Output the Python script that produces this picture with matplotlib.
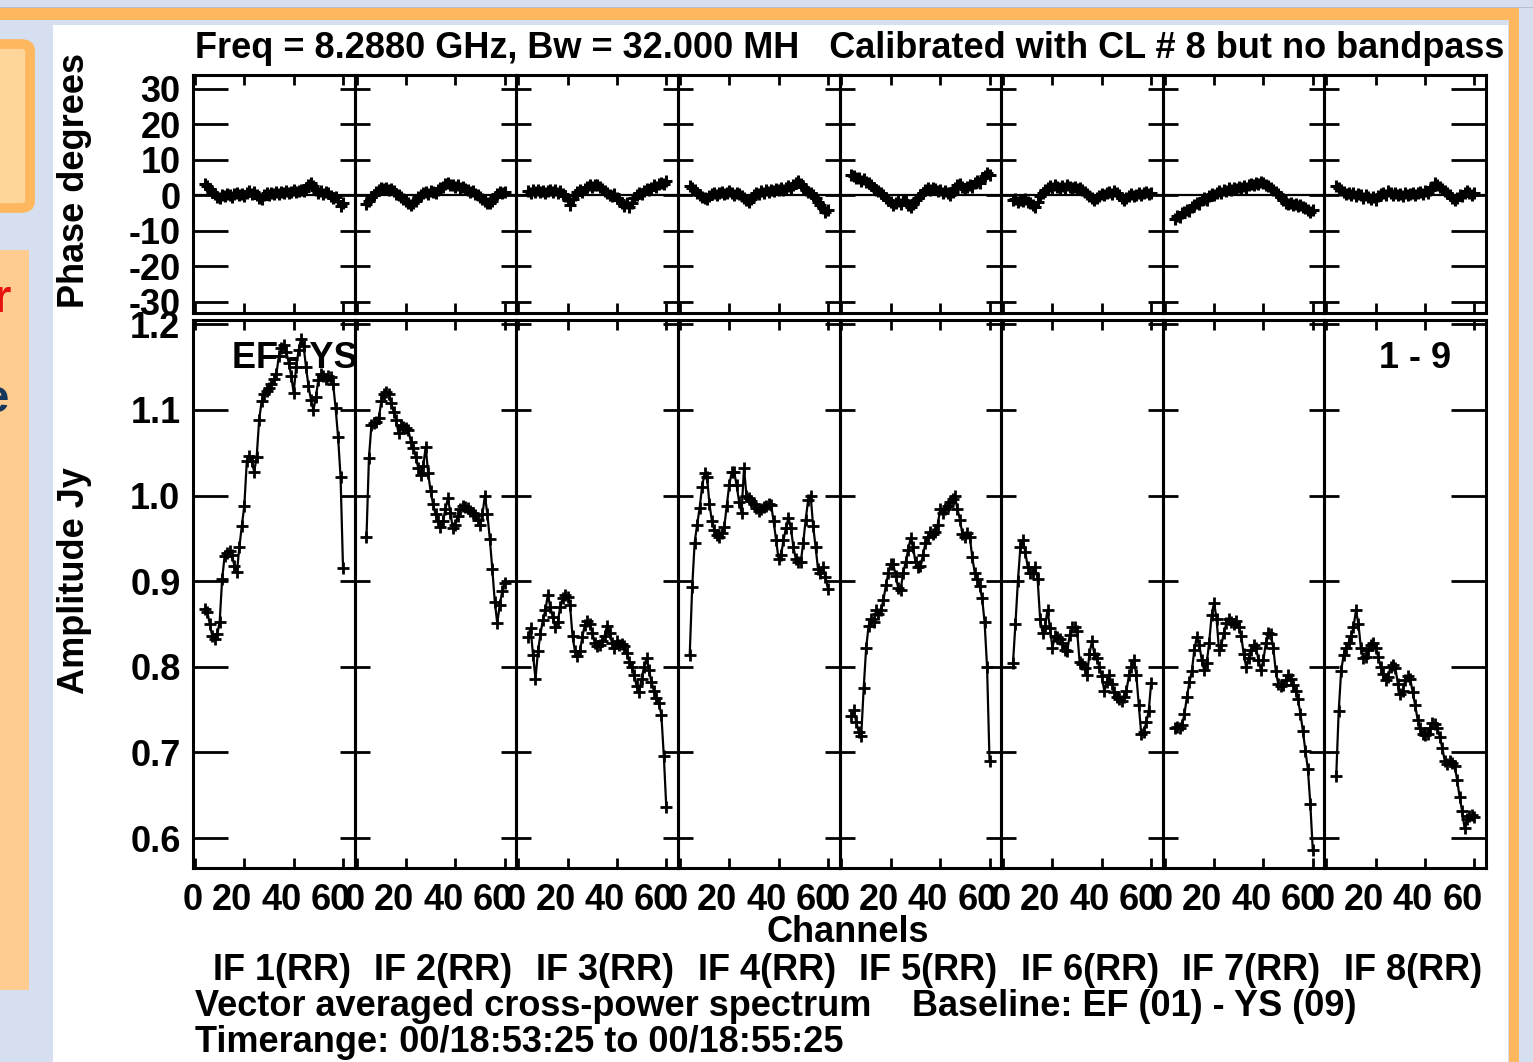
import matplotlib.pyplot as plt
from matplotlib.patches import Rectangle, FancyBboxPatch
from matplotlib.transforms import ScaledTranslation

plt.rcParams['font.family'] = ['Liberation Sans', 'DejaVu Sans']
plt.rcParams['font.weight'] = 'bold'
plt.rcParams['font.size'] = 26

# channels plotted in every IF (edge channels flagged)
channels = list(range(4, 61))

# phase (degrees) per IF, channels 4..60
phase_if1 = [3.2, 2.6, 1.8, 1.0, 0.4, -0.4, -0.6, 0.2, -0.3, 0.4,
             0.1, -0.5, 0.3, 0.6, 0.0, 0.4, -0.2, 0.8, 1.2, 0.5,
             0.9, 0.2, -0.6, -1.0, 0.1, 0.6, 0.2, 0.8, 0.4, 0.9,
             0.5, 1.1, 0.7, 1.2, 0.6, 1.0, 1.4, 0.9, 1.3, 1.6,
             1.2, 2.0, 2.8, 3.6, 2.6, 1.4, 0.8, 1.2, 0.4, 0.9,
             0.6, -0.2, -0.8, -0.4, -1.6, -3.0, -2.2]
phase_if2 = [-2.5, -1.5, -0.5, 0.0, 1.0, 1.5, 2.0, 1.8, 2.2, 1.5,
             1.8, 1.2, 0.5, 0.0, -0.5, -1.0, -1.5, -2.0, -2.8, -2.2,
             -1.5, -0.5, 0.0, 0.8, 1.0, 0.5, 1.2, 1.0, 0.8, 1.5,
             2.0, 2.5, 3.2, 3.5, 3.0, 2.8, 2.5, 2.8, 2.2, 2.5,
             1.8, 1.5, 1.0, 1.2, 0.5, 0.0, -0.5, -1.0, -1.5, -2.0,
             -2.2, -1.5, -0.5, 0.5, 1.0, 0.8, 1.0]
phase_if3 = [1.2, 0.8, 1.4, 1.0, 1.5, 0.9, 1.3, 0.7, 1.2, 1.6,
             1.0, 1.4, 0.8, 1.2, 0.4, -0.2, -1.2, -2.6, -1.0, 0.2,
             1.0, 1.4, 1.0, 1.8, 2.4, 2.8, 2.4, 3.0, 2.8, 2.4,
             1.8, 1.2, 0.8, 0.2, -0.2, 0.4, -0.6, -1.4, -2.2, -3.0,
             -2.2, -3.2, -2.0, -0.8, 0.2, 0.8, 0.4, 1.2, 1.8, 1.4,
             2.2, 2.8, 2.4, 3.2, 3.6, 3.2, 4.0]
phase_if4 = [2.6, 2.0, 1.4, 0.8, 0.2, -0.4, -0.8, -1.0, -0.2, 0.4,
             0.8, 0.2, 0.6, 1.0, 0.4, 0.8, 1.2, 0.6, 0.2, 0.8,
             0.4, -0.2, -0.6, -1.2, -1.8, -1.0, 0.2, 0.8, 0.4, 1.2,
             0.8, 1.4, 1.0, 1.6, 1.2, 1.8, 1.4, 2.0, 1.6, 2.2,
             2.6, 2.0, 2.8, 3.4, 4.0, 3.2, 2.4, 1.6, 1.0, 0.6,
             0.0, -0.6, -1.8, -2.8, -3.6, -4.6, -4.2]
phase_if5 = [5.8, 5.4, 5.0, 4.8, 4.2, 4.6, 3.8, 3.4, 3.0, 2.2,
             1.6, 1.2, 0.6, 0.2, -0.6, -1.2, -1.8, -2.6, -2.2, -1.6,
             -2.4, -1.2, -1.6, -2.6, -3.2, -2.4, -1.4, -0.6, 0.2, 0.8,
             1.4, 2.0, 1.6, 2.2, 1.8, 1.2, 1.6, 0.8, 1.2, 0.6,
             0.2, 1.0, 2.0, 2.8, 3.2, 2.4, 1.8, 2.4, 3.0, 2.4,
             3.4, 4.2, 3.6, 4.8, 5.6, 6.2, 5.8]
phase_if6 = [-1.4, -1.0, -1.8, -1.2, -1.6, -1.0, -1.8, -2.2, -2.8, -3.4,
             -1.8, -0.2, 0.8, 1.6, 2.2, 2.6, 2.2, 2.8, 2.4, 2.0,
             2.6, 2.2, 2.8, 2.4, 2.0, 2.4, 1.8, 2.2, 1.6, 1.0,
             0.4, -0.2, -0.8, -1.4, -0.8, -0.2, 0.4, 0.0, 0.6, 1.0,
             0.4, 1.2, 0.6, 0.0, -0.6, -1.2, -0.8, -0.2, 0.4, -0.2,
             0.2, 0.8, 0.2, 0.6, 1.0, 0.4, 0.8]
phase_if7 = [-6.6, -5.8, -6.2, -5.0, -4.6, -4.0, -4.4, -3.2, -2.8, -2.0,
             -2.4, -1.4, -0.8, -1.2, -0.2, 0.4, 0.0, 0.8, 1.2, 0.6,
             1.6, 1.2, 2.0, 1.6, 2.2, 1.8, 2.4, 2.0, 2.6, 2.2,
             2.8, 3.2, 2.8, 3.6, 3.2, 3.8, 3.4, 3.0, 2.6, 2.2,
             1.6, 1.0, 0.4, -0.4, -1.2, -2.0, -2.4, -2.0, -2.8, -2.4,
             -3.0, -2.6, -3.2, -3.6, -4.0, -4.6, -4.2]
phase_if8 = [2.6, 2.0, 1.4, 1.0, 0.4, 0.8, 0.2, 0.6, -0.2, 0.4,
             0.0, -0.6, 0.2, -0.4, -1.0, -0.4, -1.2, -0.2, 0.4, 0.8,
             0.2, 1.2, 0.6, 0.2, 0.8, 0.0, 0.4, -0.2, 0.6, 0.0,
             0.4, 0.8, 0.2, 0.6, 1.0, 0.4, 1.2, 0.8, 1.6, 2.4,
             3.6, 3.0, 2.4, 1.8, 1.2, 0.6, 0.0, -0.6, -1.2, -0.6,
             0.2, -0.2, 0.6, 1.2, 0.6, 0.2, 0.8]

# amplitude (Jy) per IF, channels 4..60
amp_if1 = [0.868, 0.864, 0.850, 0.836, 0.832, 0.838, 0.852, 0.902, 0.929, 0.933,
           0.935, 0.930, 0.918, 0.911, 0.940, 0.965, 0.988, 1.040, 1.046, 1.040,
           1.028, 1.045, 1.088, 1.110, 1.118, 1.122, 1.126, 1.130, 1.136, 1.142,
           1.163, 1.172, 1.176, 1.168, 1.155, 1.140, 1.120, 1.150, 1.170, 1.183,
           1.175, 1.150, 1.128, 1.112, 1.100, 1.115, 1.135, 1.142, 1.140, 1.136,
           1.140, 1.138, 1.130, 1.102, 1.068, 1.022, 0.915]
amp_if2 = [0.951, 1.044, 1.082, 1.085, 1.086, 1.090, 1.110, 1.118, 1.121, 1.118,
           1.108, 1.098, 1.088, 1.073, 1.082, 1.080, 1.079, 1.076, 1.063, 1.056,
           1.045, 1.032, 1.024, 1.034, 1.057, 1.026, 1.005, 0.990, 0.978, 0.970,
           0.963, 0.970, 0.984, 0.997, 0.980, 0.962, 0.966, 0.976, 0.984, 0.988,
           0.987, 0.985, 0.982, 0.980, 0.977, 0.972, 0.966, 0.978, 1.000, 0.978,
           0.949, 0.914, 0.876, 0.851, 0.872, 0.888, 0.898]
amp_if3 = [0.835, 0.845, 0.814, 0.786, 0.818, 0.838, 0.855, 0.866, 0.884, 0.870,
           0.858, 0.846, 0.852, 0.870, 0.880, 0.884, 0.882, 0.872, 0.836, 0.818,
           0.813, 0.818, 0.835, 0.849, 0.853, 0.850, 0.840, 0.828, 0.824, 0.826,
           0.830, 0.836, 0.848, 0.840, 0.828, 0.822, 0.830, 0.826, 0.827, 0.824,
           0.816, 0.806, 0.800, 0.790, 0.777, 0.771, 0.786, 0.800, 0.810, 0.796,
           0.782, 0.772, 0.764, 0.758, 0.744, 0.696, 0.636]
amp_if4 = [0.814, 0.893, 0.945, 0.966, 0.985, 1.010, 1.026, 1.022, 0.990, 0.970,
           0.960, 0.954, 0.951, 0.956, 0.963, 0.988, 1.012, 1.027, 1.028, 1.012,
           0.993, 0.980, 1.032, 1.000, 0.997, 0.994, 0.990, 0.986, 0.982, 0.984,
           0.987, 0.988, 0.990, 0.989, 0.970, 0.948, 0.926, 0.930, 0.948, 0.962,
           0.974, 0.962, 0.940, 0.926, 0.922, 0.922, 0.945, 0.972, 0.995, 1.000,
           0.965, 0.940, 0.914, 0.910, 0.916, 0.905, 0.891]
amp_if5 = [0.742, 0.750, 0.735, 0.724, 0.719, 0.775, 0.822, 0.848, 0.856, 0.852,
           0.866, 0.862, 0.866, 0.878, 0.895, 0.910, 0.920, 0.920, 0.906, 0.892,
           0.890, 0.910, 0.922, 0.936, 0.950, 0.940, 0.922, 0.916, 0.918, 0.930,
           0.944, 0.952, 0.957, 0.955, 0.957, 0.966, 0.984, 0.980, 0.984, 0.988,
           0.992, 0.996, 0.999, 0.984, 0.972, 0.955, 0.951, 0.956, 0.952, 0.928,
           0.910, 0.903, 0.894, 0.880, 0.852, 0.800, 0.690]
amp_if6 = [0.804, 0.850, 0.900, 0.940, 0.948, 0.934, 0.916, 0.910, 0.910, 0.916,
           0.902, 0.856, 0.840, 0.848, 0.866, 0.845, 0.822, 0.836, 0.835, 0.832,
           0.828, 0.820, 0.818, 0.837, 0.847, 0.846, 0.842, 0.806, 0.803, 0.798,
           0.790, 0.815, 0.830, 0.815, 0.810, 0.800, 0.789, 0.772, 0.782, 0.790,
           0.780, 0.770, 0.765, 0.762, 0.760, 0.765, 0.772, 0.790, 0.800, 0.808,
           0.790, 0.755, 0.721, 0.724, 0.735, 0.748, 0.781]
amp_if7 = [0.728, 0.730, 0.729, 0.732, 0.745, 0.765, 0.782, 0.795, 0.820, 0.835,
           0.826, 0.808, 0.796, 0.804, 0.828, 0.860, 0.875, 0.856, 0.820, 0.826,
           0.840, 0.851, 0.856, 0.852, 0.850, 0.853, 0.846, 0.836, 0.815, 0.800,
           0.810, 0.820, 0.826, 0.822, 0.808, 0.796, 0.808, 0.828, 0.840, 0.838,
           0.822, 0.795, 0.780, 0.777, 0.779, 0.785, 0.790, 0.786, 0.779, 0.772,
           0.762, 0.745, 0.725, 0.702, 0.681, 0.640, 0.586]
amp_if8 = [0.672, 0.748, 0.795, 0.814, 0.822, 0.828, 0.836, 0.846, 0.866, 0.850,
           0.822, 0.810, 0.812, 0.820, 0.826, 0.828, 0.822, 0.812, 0.800, 0.792,
           0.785, 0.788, 0.800, 0.802, 0.798, 0.780, 0.768, 0.772, 0.785, 0.789,
           0.786, 0.770, 0.755, 0.738, 0.728, 0.722, 0.720, 0.722, 0.728, 0.734,
           0.733, 0.728, 0.718, 0.705, 0.690, 0.686, 0.690, 0.688, 0.684, 0.668,
           0.648, 0.632, 0.612, 0.622, 0.626, 0.627, 0.625]

if_labels = ['IF 1(RR)', 'IF 2(RR)', 'IF 3(RR)', 'IF 4(RR)',
             'IF 5(RR)', 'IF 6(RR)', 'IF 7(RR)', 'IF 8(RR)']
x_ticks = [0, 20, 40, 60]
phase_ticks = [-30, -20, -10, 0, 10, 20, 30]
amp_ticks = [0.6, 0.7, 0.8, 0.9, 1.0, 1.1, 1.2]

phases = [phase_if1, phase_if2, phase_if3, phase_if4,
          phase_if5, phase_if6, phase_if7, phase_if8]
amps = [amp_if1, amp_if2, amp_if3, amp_if4,
        amp_if5, amp_if6, amp_if7, amp_if8]

W, H = 1533, 1062
fig = plt.figure(figsize=(W / 100, H / 100), dpi=100)
fig.patch.set_facecolor('#d6dfef')


def fx(px):
    return px / W


def fy(py):
    return 1 - py / H


def box(x0, y0, x1, y1, **kw):
    r = Rectangle((fx(x0), fy(y1)), fx(x1 - x0), (y1 - y0) / H,
                  transform=fig.transFigure, zorder=-5, **kw)
    fig.add_artist(r)


# slide decoration around the plot
box(0, 7, 1533, 8, color='#b7bfcc', lw=0)
box(0, 8, 1519, 20, color='#fdb75f', lw=0)
box(1509, 8, 1519, 1062, color='#fdb75f', lw=0)
box(53, 25, 1508, 1062, color='white', lw=0)
fig.add_artist(FancyBboxPatch((fx(-30), fy(208)), fx(60), (208 - 44) / H,
                              boxstyle='round,pad=0,rounding_size=0.006',
                              transform=fig.transFigure, zorder=-5,
                              facecolor='#ffd699', edgecolor='#fdb75f', lw=7))
box(0, 250, 29, 990, color='#ffcc8f', lw=0)
fig.text(fx(11), fy(300), 'r', color='#e8120c', fontsize=34, ha='right', va='center')
fig.text(fx(8), fy(400), 'e', color='#16365c', fontsize=34, ha='right', va='center')

left0, right0 = 193, 1486
pw = (right0 - left0) / 8
p_top, p_bot = 75, 313
a_top, a_bot = 320, 868
shift = ScaledTranslation(8 / 100, 0, fig.dpi_scale_trans)


def style(ax, yticks, ylim, first, last):
    ax.set_facecolor('none')
    ax.set_xlim(-0.8, 64.7)
    ax.set_ylim(*ylim)
    ax.set_xticks(x_ticks)
    ax.set_yticks(yticks)
    ax.tick_params(which='major', direction='in', top=True, right=True,
                   width=2.0, color='k', labelsize=26, pad=9)
    ax.tick_params(axis='y', length=11)
    ax.tick_params(axis='x', length=7, pad=11)
    for s in ax.spines.values():
        s.set_linewidth(2.2)
    for t in ax.yaxis.get_major_ticks():
        if first:
            t.tick1line.set_markersize(25)
        if last:
            t.tick2line.set_markersize(25)
    if not first:
        ax.tick_params(axis='y', labelleft=False)


for i in range(8):
    x0 = left0 + i * pw
    axp = fig.add_axes([fx(x0), fy(p_bot), pw / W, (p_bot - p_top) / H])
    axa = fig.add_axes([fx(x0), fy(a_bot), pw / W, (a_bot - a_top) / H])

    axp.axhline(0, color='k', lw=1.6, zorder=1)
    axp.plot(channels, phases[i], color='k', lw=1.6, marker='+', ms=9, mew=2.2, zorder=2)
    style(axp, phase_ticks, (-33.1, 33.9), i == 0, i == 7)
    axp.tick_params(axis='x', labelbottom=False)
    axp.set_yticklabels([str(v) for v in phase_ticks])

    axa.plot(channels, amps[i], color='k', lw=1.6, marker='+', ms=9, mew=2.0, zorder=2)
    style(axa, amp_ticks, (0.565, 1.205), i == 0, i == 7)
    axa.set_yticklabels(['%.1f' % v for v in amp_ticks])
    axa.set_xticklabels([str(v) for v in x_ticks])
    # AIPS puts the channel numbers just left of their tick
    for lab in axa.get_xticklabels():
        lab.set_ha('right')
        lab.set_transform(lab.get_transform() + shift)

    fig.text(fx(x0 + pw / 2 + 8), fy(970), if_labels[i], ha='center', va='center')

    if i == 0:
        axa.text(0.24, 0.93, 'EF - YS', transform=axa.transAxes, ha='left',
                 va='center', zorder=1, clip_on=False)
    if i == 7:
        axa.text(0.34, 0.93, '1 - 9', transform=axa.transAxes, ha='left',
                 va='center', zorder=1)

fig.text(fx(195), fy(48), 'Freq = 8.2880 GHz, Bw = 32.000 MH   Calibrated with CL # 8 but no bandpass',
         ha='left', va='center', fontsize=26)
fig.text(fx(75), fy(180), 'Phase degrees', rotation=90, ha='center', va='center')
fig.text(fx(75), fy(581), 'Amplitude Jy', rotation=90, ha='center', va='center')
fig.text(fx(848), fy(933), 'Channels', ha='center', va='center')
fig.text(fx(195), fy(1007), 'Vector averaged cross-power spectrum', ha='left', va='center')
fig.text(fx(912), fy(1007), 'Baseline: EF (01) - YS (09)', ha='left', va='center')
fig.text(fx(195), fy(1043), 'Timerange: 00/18:53:25 to 00/18:55:25', ha='left', va='center')

fig.savefig('out.png', dpi=100, facecolor=fig.get_facecolor())
